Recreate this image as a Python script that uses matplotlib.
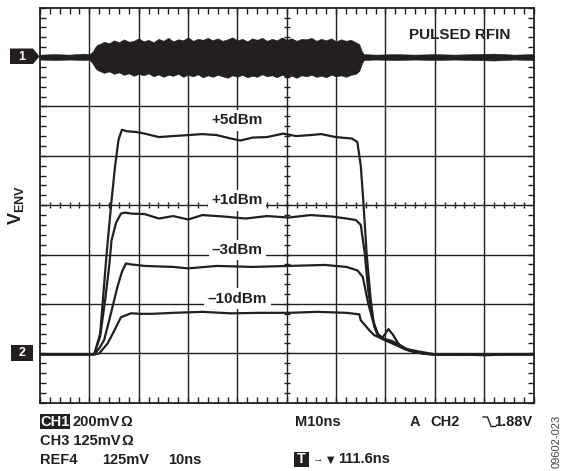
import numpy as np
import matplotlib
matplotlib.use("Agg")
import matplotlib.pyplot as plt
from matplotlib.patches import Polygon, Rectangle

plt.rcParams['font.family'] = ['Liberation Sans', 'DejaVu Sans']
plt.rcParams['font.weight'] = 'bold'
plt.rcParams['mathtext.fontset'] = 'custom'
plt.rcParams['mathtext.bf'] = 'Liberation Sans:bold'
plt.rcParams['mathtext.rm'] = 'Liberation Sans:bold'

# ---------------- data (screen divisions: x 0-10, y 0-8) ----------------
# CH1: pulsed RF input, envelope of the displayed carrier band
rf_x = [0.0, 0.3, 0.6, 0.9, 1.0, 1.06, 1.12, 1.16,
        1.2, 1.3, 1.4, 1.5, 1.6, 1.7, 1.8, 1.9, 2.0, 2.1, 2.2, 2.3, 2.4, 2.5, 2.6, 2.7, 2.8, 2.9,
        3.0, 3.1, 3.2, 3.3, 3.4, 3.5, 3.6, 3.7, 3.8, 3.9, 4.0, 4.1, 4.2, 4.3, 4.4, 4.5, 4.6, 4.7,
        4.8, 4.9, 5.0, 5.1, 5.2, 5.3, 5.4, 5.5, 5.6, 5.7, 5.8, 5.9, 6.0, 6.1, 6.2, 6.3, 6.4,
        6.47, 6.52, 6.56, 6.8, 7.2, 7.6, 8.0, 8.4, 8.8, 9.2, 9.6, 10.0]
rf_top = [7.05, 7.06, 7.05, 7.07, 7.06, 7.10, 7.20, 7.25,
          7.26, 7.31, 7.28, 7.34, 7.30, 7.36, 7.31, 7.33, 7.38, 7.32, 7.35, 7.30, 7.37, 7.33, 7.39, 7.32, 7.36, 7.34,
          7.40, 7.33, 7.37, 7.35, 7.39, 7.34, 7.38, 7.33, 7.36, 7.40, 7.34, 7.37, 7.32, 7.38, 7.35, 7.39, 7.33, 7.37,
          7.34, 7.40, 7.35, 7.38, 7.33, 7.37, 7.36, 7.39, 7.33, 7.37, 7.34, 7.38, 7.32, 7.36, 7.33, 7.35, 7.30,
          7.26, 7.12, 7.06, 7.05, 7.06, 7.05, 7.06, 7.05, 7.06, 7.07, 7.05, 7.06]
rf_bot = [6.95, 6.94, 6.95, 6.94, 6.95, 6.88, 6.78, 6.74,
          6.72, 6.68, 6.71, 6.66, 6.69, 6.64, 6.67, 6.62, 6.66, 6.63, 6.67, 6.61, 6.65, 6.60, 6.64, 6.62, 6.66, 6.60,
          6.64, 6.61, 6.65, 6.59, 6.63, 6.60, 6.64, 6.61, 6.58, 6.63, 6.60, 6.64, 6.59, 6.62, 6.60, 6.65, 6.61, 6.63,
          6.59, 6.64, 6.60, 6.62, 6.58, 6.63, 6.61, 6.64, 6.60, 6.62, 6.59, 6.64, 6.61, 6.63, 6.60, 6.64, 6.66,
          6.72, 6.86, 6.94, 6.95, 6.94, 6.95, 6.94, 6.95, 6.94, 6.93, 6.95, 6.94]

# CH2: VENV responses
p5_x = [0, 1.0, 1.1, 1.22, 1.35, 1.45, 1.52, 1.59, 1.66, 1.75, 1.85, 1.97, 2.12, 2.41, 2.70, 3.0,
        3.29, 3.58, 3.87, 4.06, 4.31, 4.6, 4.93, 5.19, 5.48, 5.70, 5.99, 6.32, 6.43, 6.50, 6.55,
        6.62, 6.70, 6.77, 6.85, 6.95, 7.06, 7.15, 7.26, 7.36, 7.5, 7.65, 7.8, 8.0, 8.5, 9.0, 9.5, 10]
p5_y = [0.98, 0.98, 0.98, 1.40, 3.02, 4.10, 4.78, 5.32, 5.53, 5.50, 5.49, 5.48, 5.45, 5.38, 5.40, 5.42,
        5.44, 5.42, 5.35, 5.31, 5.37, 5.38, 5.45, 5.40, 5.42, 5.44, 5.38, 5.35, 5.28, 4.80, 4.10,
        3.00, 2.10, 1.55, 1.35, 1.33, 1.49, 1.38, 1.20, 1.10, 1.05, 1.02, 0.99, 0.97, 0.98, 0.96, 0.98, 0.98]

p1_x = [0, 1.0, 1.1, 1.22, 1.32, 1.40, 1.45, 1.54, 1.64, 1.72, 1.85, 2.12, 2.41, 2.70, 3.0, 3.29,
        3.73, 4.17, 4.6, 5.04, 5.48, 5.92, 6.21, 6.40, 6.50, 6.58, 6.65, 6.73, 6.83, 6.95, 7.1,
        7.25, 7.4, 7.6, 7.8, 8.2, 9.0, 10]
p1_y = [0.98, 0.98, 0.98, 1.35, 2.08, 2.75, 3.29, 3.64, 3.83, 3.85, 3.83, 3.82, 3.73, 3.78, 3.71, 3.80,
        3.77, 3.73, 3.78, 3.75, 3.80, 3.77, 3.73, 3.70, 3.60, 3.03, 2.28, 1.74, 1.41, 1.30, 1.26,
        1.20, 1.08, 1.02, 0.99, 0.97, 0.98, 0.98]

m3_x = [0, 1.0, 1.1, 1.20, 1.30, 1.42, 1.57, 1.66, 1.74, 1.85, 2.12, 2.70, 3.0, 3.58, 4.31, 5.04,
        5.77, 6.21, 6.43, 6.54, 6.65, 6.76, 6.87, 7.0, 7.15, 7.3, 7.45, 7.6, 7.8, 8.2, 9.0, 10]
m3_y = [0.98, 0.98, 0.98, 1.10, 1.27, 1.74, 2.35, 2.65, 2.82, 2.80, 2.77, 2.75, 2.72, 2.77, 2.75, 2.77,
        2.79, 2.75, 2.68, 2.55, 2.01, 1.61, 1.34, 1.26, 1.22, 1.16, 1.08, 1.03, 0.99, 0.97, 0.98, 0.98]

m10_x = [0, 1.0, 1.12, 1.20, 1.37, 1.51, 1.64, 1.84, 2.05, 2.27, 2.70, 3.29, 3.87, 4.46, 5.04,
         5.63, 6.21, 6.47, 6.50, 6.67, 6.77, 6.96, 7.36, 7.66, 8.0, 9.0, 10]
m10_y = [0.98, 0.98, 0.98, 1.00, 1.20, 1.47, 1.73, 1.81, 1.80, 1.80, 1.82, 1.84, 1.81, 1.82, 1.82,
         1.84, 1.82, 1.79, 1.67, 1.47, 1.37, 1.28, 1.10, 1.04, 0.98, 0.98, 0.98]

trace_labels = ['+5dBm', '+1dBm', '\u20133dBm', '\u201310dBm']
label_y = [5.72, 4.10, 3.09, 2.11]

# ---------------- figure ----------------
W, H = 565, 471
fig = plt.figure(figsize=(W / 100, H / 100), dpi=100)
fig.patch.set_facecolor('white')

x0, x1, yt, yb = 40.0, 533.5, 7.7, 402.7
ax = fig.add_axes([x0 / W, 1 - yb / H, (x1 - x0) / W, (yb - yt) / H])
ax.set_xlim(0, 10)
ax.set_ylim(0, 8)
ink = '#231f20'

for s in ax.spines.values():
    s.set_linewidth(1.3)
    s.set_color(ink)

# graticule
for i in range(1, 10):
    ax.axvline(i, color=ink, lw=1.0, zorder=1)
for j in range(1, 8):
    ax.axhline(j, color=ink, lw=1.0, zorder=1)

ax.set_xticks([])
ax.set_yticks([])
ax.set_xticks(np.arange(0, 10.01, 0.2), minor=True)
ax.set_yticks(np.arange(0, 8.01, 0.2), minor=True)
ax.tick_params(which='minor', direction='in', length=4, width=1.0, color=ink,
               top=True, right=True, bottom=True, left=True,
               labelbottom=False, labelleft=False)

# centre cross ticks
cx = np.arange(0.2, 10, 0.2)
cy = np.arange(0.2, 8, 0.2)
ax.plot(cx, np.full_like(cx, 4.0), ls='none', marker='|', ms=5, mew=1.0, color=ink, zorder=1)
ax.plot(np.full_like(cy, 5.0), cy, ls='none', marker='_', ms=5, mew=1.0, color=ink, zorder=1)

# CH1 RF burst
ax.fill_between(rf_x, rf_bot, rf_top, facecolor=ink, lw=0.4, edgecolor=ink, zorder=3)

# CH2 traces
for xs, ys in [(p5_x, p5_y), (p1_x, p1_y), (m3_x, m3_y), (m10_x, m10_y)]:
    ax.plot(xs, ys, color=ink, lw=1.6, zorder=4, solid_joinstyle='round')

for lab, yy in zip(trace_labels, label_y):
    ax.text(4.0, yy, lab, ha='center', va='center', fontsize=11, fontweight='bold', color=ink,
            zorder=5, bbox=dict(boxstyle='square,pad=0.22', fc='white', ec='none'))

ax.text(8.5, 7.45, 'PULSED RFIN', ha='center', va='center', fontsize=11, fontweight='bold',
        color=ink, zorder=5)

# ---------------- overlay (pixel coordinates) ----------------
ov = fig.add_axes([0, 0, 1, 1])
ov.set_xlim(0, W)
ov.set_ylim(H, 0)
ov.axis('off')

# channel markers
ov.add_patch(Polygon([[10, 48.5], [33, 48.5], [39.5, 56.5], [33, 64], [10, 64]],
                     closed=True, fc=ink, ec='none'))
ov.text(21.5, 56.5, '1', color='white', ha='center', va='center', fontsize=9, fontweight='bold')
ov.add_patch(Rectangle((11, 344.5), 21.5, 16, fc=ink, ec='none'))
ov.text(21.8, 352.8, '2', color='white', ha='center', va='center', fontsize=9, fontweight='bold')

ov.text(16, 205, r'$\mathbf{V}_{\mathbf{ENV}}$', rotation=90, ha='center', va='center',
        fontsize=13, color=ink)

fs = 10.5
ov.text(40.5, 421.7, 'CH1', color='white', ha='left', va='center', fontsize=fs, fontweight='bold',
        bbox=dict(boxstyle='square,pad=0.05', fc=ink, ec='none'))
ov.text(72.5, 421.7, '200mV', ha='left', va='center', fontsize=fs, color=ink)
ov.text(120.5, 421.7, '\u03a9', ha='left', va='center', fontsize=fs, color=ink)
ov.text(40, 440.7, 'CH3 125mV', ha='left', va='center', fontsize=fs, color=ink)
ov.text(121.5, 440.7, '\u03a9', ha='left', va='center', fontsize=fs, color=ink)
ov.text(40, 459.5, 'REF4', ha='left', va='center', fontsize=fs, color=ink)
ov.text(101.7, 459.5, '125mV', ha='left', va='center', fontsize=fs, color=ink)
ov.text(168, 459.5, '10ns', ha='left', va='center', fontsize=fs, color=ink)

ov.text(295, 421.7, 'M10ns', ha='left', va='center', fontsize=fs, color=ink)
ov.text(410, 421.7, 'A', ha='left', va='center', fontsize=fs, color=ink)
ov.text(430.7, 421.7, 'CH2', ha='left', va='center', fontsize=fs, color=ink)
ov.plot([483, 487.5, 491, 495.5], [417, 417, 426.5, 426.5], color=ink, lw=1.0)
ov.text(532, 421.7, '1.88V', ha='right', va='center', fontsize=fs, color=ink)

ov.add_patch(Rectangle((294, 451.7), 15.3, 15, fc=ink, ec='none'))
ov.text(301.6, 459.3, 'T', color='white', ha='center', va='center', fontsize=fs, fontweight='bold')
ov.text(312.5, 459.3, '\u2192', ha='left', va='center', fontsize=7.5, color=ink,
        family=['Liberation Sans', 'DejaVu Sans'])
ov.text(326.5, 459.3, '\u25bc', ha='left', va='center', fontsize=7, color=ink,
        family=['DejaVu Sans'])
ov.text(338.3, 459.3, '111.6ns', ha='left', va='center', fontsize=fs, color=ink)

ov.text(556.5, 441, '09602-023', rotation=90, ha='center', va='center', fontsize=8,
        fontweight='normal', color='#444444')

fig.savefig('out.png', dpi=100, facecolor='white')
